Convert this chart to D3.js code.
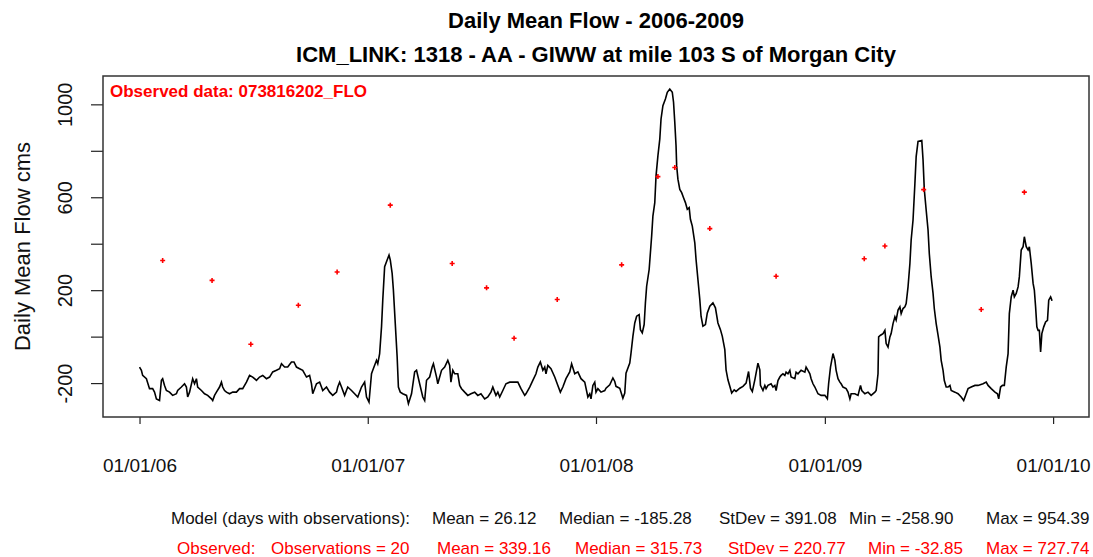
<!DOCTYPE html>
<html>
<head>
<meta charset="utf-8">
<script src="https://cdn.jsdelivr.net/npm/d3@7"></script>
<style>
  body { margin: 0; padding: 0; background: #fff; overflow: hidden; }
  svg text { font-family: "Liberation Sans", Arial, sans-serif; }
</style>
</head>
<body>
<script>

    // model series: day number counted from 01/01/2006, daily mean flow (cms)
    const modelDay = [0,3,5,11,16,21,24,27,32,35,37,40,43,48,53,59,61,67,72,75,77,80,85,88,91,93,99,104,109,115,117,120,123,128,131,133,136,139,144,149,155,160,165,171,176,181,187,192,197,203,208,213,219,224,227,232,237,243,247,
      251,256,261,267,272,275,277,283,288,291,293,299,304,309,315,317,320,323,328,333,339,344,349,355,360,363,367,371,373,379,381,384,387,389,392,396,399,401,404,406,409,412,414,417,421,427,430,435,440,443,448,453,456,459,464,468,470,475,477,483,488,493,496,
      498,501,504,509,512,515,520,525,530,536,541,546,552,557,562,565,568,570,573,576,581,586,592,597,605,610,616,618,624,629,634,637,641,645,648,650,653,658,664,669,673,677,682,688,691,696,701,706,712,717,720,722,725,728,730,733,738,744,
      746,752,757,760,762,768,773,776,778,784,786,789,792,795,799,801,804,807,809,811,815,817,819,821,824,826,829,832,834,837,841,844,848,852,854,856,858,859,861,864,867,870,873,876,879,881,884,888,890,893,896,898,901,905,908,912,917,921,925,929,932,936,938,941,944,947,951,954,960,965,970,974,977,980,984,989,992,
      993,997,1000,1002,1005,1010,1013,1016,1018,1021,1024,1026,1029,1032,1034,1037,1040,1042,1048,1050,1053,1058,1064,1066,1069,1072,1074,1077,1080,1085,1090,1096,1100,1102,1105,1109,1112,1114,1117,1120,1122,1125,1130,1133,1136,1138,1144,1149,1153,1155,1160,1165,1170,1176,1178,1181,1182,1185,1189,1192,1194,1197,1200,1202,1205,1208,1210,1213,1216,1218,1221,1224,1226,1229,1232,1234,1237,
      1240,1242,1245,1251,1253,1255,1258,1261,1263,1266,1269,1271,1274,1277,1280,1282,1285,1287,1290,1293,1296,1298,1304,1309,1314,1318,1322,1325,1330,1336,1341,1349,1354,1357,1362,1368,1372,1374,1377,1380,1383,1386,1389,1391,1394,1397,1399,1402,1405,1407,1410,1413,1415,1418,1421,1423,1426,1429,1431,1433,1435,1437,1439,1441,1443,1446,1449,1452,1454,1457,1459,1460];
    const modelFlow = [-131,-145,-167,-181,-224,-224,-239,-268,-275,-188,-181,-210,-232,-239,-253,-246,-232,-217,-203,-217,-260,-239,-181,-203,-181,-217,-232,-246,-253,-268,-275,-253,-239,-217,-196,-217,-232,-239,-246,-239,-239,-224,-224,-196,-167,-174,-188,-174,-167,-181,-174,-152,-145,-138,-117,-131,-131,-109,-109,
      -131,-138,-145,-174,-167,-203,-246,-203,-196,-217,-232,-217,-239,-253,-239,-217,-196,-217,-253,-217,-232,-246,-260,-217,-196,-260,-282,-160,-145,-102,-117,-73,42,157,301,330,351,330,272,200,56,-88,-217,-239,-246,-253,-289,-246,-152,-145,-203,-260,-275,-188,-174,-131,-117,-174,-203,-145,-131,-102,-124,
      -196,-145,-160,-160,-210,-224,-239,-253,-246,-239,-253,-246,-268,-260,-239,-217,-239,-253,-239,-260,-232,-203,-196,-196,-196,-224,-253,-246,-217,-188,-160,-131,-109,-145,-131,-160,-124,-138,-174,-210,-239,-217,-181,-152,-117,-160,-152,-181,-196,-260,-246,-268,-210,-196,-239,-224,-239,-232,
      -222,-207,-178,-193,-214,-222,-265,-243,-157,-114,-71,1,59,88,95,30,16,52,145,217,289,361,433,519,577,692,778,850,937,994,1023,1052,1066,1052,1009,922,822,735,678,634,620,598,577,548,555,505,476,404,332,246,160,88,45,52,102,131,145,124,59,30,1,-56,-143,-186,-214,-243,-229,-236,-222,-214,-200,-150,-222,-236,-186,-114,-143,
      -210,-232,-210,-224,-210,-203,-217,-210,-232,-189,-174,-167,-160,-167,-153,-160,-145,-174,-181,-153,-160,-145,-153,-131,-145,-160,-181,-203,-217,-246,-253,-253,-268,-203,-131,-73,-102,-145,-181,-196,-203,-217,-224,-239,-268,-246,-246,-253,-210,-232,-246,-239,-253,-239,-232,-160,-1,6,13,27,-30,-45,-1,13,56,85,71,114,128,99,121,128,142,214,315,416,502,
      660,775,840,844,761,634,545,459,358,258,186,121,56,6,-45,-102,-145,-189,-217,-217,-210,-232,-239,-246,-260,-275,-246,-224,-217,-210,-210,-203,-196,-210,-224,-239,-246,-268,-217,-210,-210,-131,-73,99,171,200,171,186,214,257,373,387,430,387,373,387,315,229,200,128,42,27,27,-66,13,42,63,70,157,171,157,157];

    // observed data 073816202_FLO
    const obsDate = ["2006-02-07","2006-04-27","2006-06-28","2006-09-12","2006-11-13","2007-02-06","2007-05-16","2007-07-10","2007-08-23","2007-10-31",
      "2008-02-11","2008-04-09","2008-05-06","2008-07-01","2008-10-15","2009-03-05","2009-04-07","2009-06-08","2009-09-08","2009-11-16"];
    const obsFlow = [328,242,-33,135,278,566,315,210,-7,160,309,689,728,465,260,335,390,633,117,622];

    const xTickDates = ["2006-01-01","2007-01-01","2008-01-01","2009-01-01","2010-01-01"];
    const xTickLabels = ["01/01/06","01/01/07","01/01/08","01/01/09","01/01/10"];
    const yTicks = [-200,0,200,400,600,800,1000];
    const yTickLabels = ["-200","","200","","600","","1000"];

    const modelStats = ["Model (days with observations):","Mean = 26.12","Median = -185.28","StDev = 391.08","Min = -258.90","Max = 954.39"];
    const obsStats = ["Observed:","Observations = 20","Mean = 339.16","Median = 315.73","StDev = 220.77","Min = -32.85","Max = 727.74"];

    const width = 1093, height = 557;
    const margin = {top: 76, right: 4, bottom: 140, left: 103};
    const parse = d3.utcParse("%Y-%m-%d");
    const start = parse("2006-01-01");

    const model = modelDay.map((d, i) => ({date: d3.utcDay.offset(start, d), v: modelFlow[i]}));
    const obs = obsDate.map((d, i) => ({date: parse(d), v: obsFlow[i]}));

    // R style: 4% padding around the data range
    const ext = d3.extent(model, d => d.date);
    const pad = (ext[1] - ext[0]) * 0.04;
    const x = d3.scaleUtc()
      .domain([new Date(+ext[0] - pad), new Date(+ext[1] + pad)])
      .range([margin.left, width - margin.right]);
    const y = d3.scaleLinear()
      .domain([-346, 1122])
      .range([height - margin.bottom, margin.top]);

    const svg = d3.select("body").append("svg")
      .attr("width", width)
      .attr("height", height)
      .style("background", "#fff");

    // titles
    svg.append("text").attr("x", 596).attr("y", 28).attr("text-anchor", "middle")
      .style("font-size", "22px").style("font-weight", "bold")
      .text("Daily Mean Flow - 2006-2009");
    svg.append("text").attr("x", 596).attr("y", 62).attr("text-anchor", "middle")
      .style("font-size", "22px").style("font-weight", "bold")
      .text("ICM_LINK: 1318 - AA - GIWW at mile 103 S of Morgan City");

    // y axis
    const yAxis = svg.append("g")
      .attr("transform", `translate(${margin.left},0)`)
      .call(d3.axisLeft(y).tickValues(yTicks).tickSize(12).tickFormat((d, i) => yTickLabels[i]));
    yAxis.select(".domain").remove();
    yAxis.selectAll("line").attr("stroke", "#222").attr("stroke-width", 1.2);
    yAxis.selectAll("text")
      .attr("x", null).attr("dy", null)
      .attr("text-anchor", "middle")
      .attr("transform", "translate(-31,0) rotate(-90)")
      .attr("fill", "#111")
      .style("font-size", "20px")
      .style("font-family", "'Liberation Sans', Arial, sans-serif");

    svg.append("text")
      .attr("transform", `translate(30,${(margin.top + height - margin.bottom) / 2}) rotate(-90)`)
      .attr("text-anchor", "middle")
      .style("font-size", "22px")
      .attr("fill", "#111")
      .text("Daily Mean Flow cms");

    // x axis
    const xAxis = svg.append("g")
      .attr("transform", `translate(0,${height - margin.bottom})`)
      .call(d3.axisBottom(x).tickValues(xTickDates.map(parse)).tickSize(7).tickFormat((d, i) => xTickLabels[i]));
    xAxis.select(".domain").remove();
    xAxis.selectAll("line").attr("stroke", "#222").attr("stroke-width", 1.2);
    xAxis.selectAll("text")
      .attr("y", 42)
      .attr("fill", "#111")
      .style("font-size", "19px")
      .style("font-family", "'Liberation Sans', Arial, sans-serif");

    // model line
    svg.append("path")
      .datum(model)
      .attr("fill", "none")
      .attr("stroke", "#000")
      .attr("stroke-width", 1.6)
      .attr("d", d3.line().x(d => x(d.date)).y(d => y(d.v)));

    // observed points
    svg.selectAll(".obs")
      .data(obs)
      .enter().append("path")
      .attr("class", "obs")
      .attr("transform", d => `translate(${x(d.date)},${y(d.v)})`)
      .attr("d", "M-2.5,0H2.5M0,-2.5V2.5")
      .attr("stroke", "#ff0000")
      .attr("stroke-width", 1.6);

    // plot box
    svg.append("rect")
      .attr("x", margin.left).attr("y", margin.top)
      .attr("width", width - margin.left - margin.right)
      .attr("height", height - margin.top - margin.bottom)
      .attr("fill", "none")
      .attr("stroke", "#333")
      .attr("stroke-width", 1.5);

    svg.append("text").attr("x", 110).attr("y", 97)
      .attr("fill", "#ff0000")
      .style("font-size", "17px").style("font-weight", "bold")
      .text("Observed data: 073816202_FLO");

    // summary lines under the chart
    const modelStatX = [171, 432, 559, 719, 849, 986];
    const obsStatX = [177, 271, 437, 575, 728, 868, 986];
    svg.selectAll(".mstat")
      .data(modelStats)
      .enter().append("text")
      .attr("class", "mstat")
      .attr("x", (d, i) => modelStatX[i]).attr("y", 524)
      .attr("fill", "#111")
      .style("font-size", "17px")
      .text(d => d);
    svg.selectAll(".ostat")
      .data(obsStats)
      .enter().append("text")
      .attr("class", "ostat")
      .attr("x", (d, i) => obsStatX[i]).attr("y", 554)
      .attr("fill", "#ff0000")
      .style("font-size", "17px")
      .text(d => d);
</script>
</body>
</html>
